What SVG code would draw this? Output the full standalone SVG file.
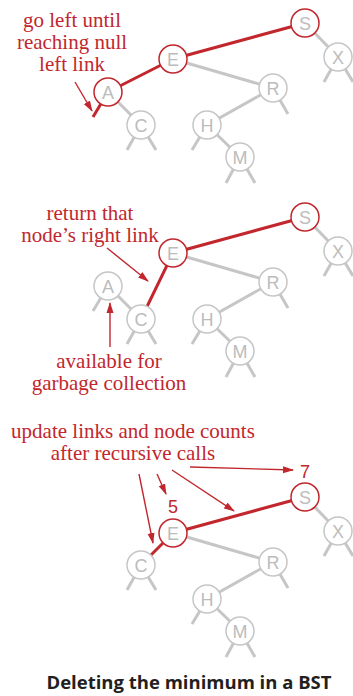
<svg xmlns="http://www.w3.org/2000/svg" width="353" height="696" viewBox="0 0 353 696">
<style>
.g{stroke:#c6c6c6;stroke-width:3;fill:none}
.r{stroke:#c1272d;stroke-width:3;fill:none}
.a{stroke:#c1272d;stroke-width:1.4;fill:none;marker-end:url(#ah)}
.n circle{fill:#fff;stroke:#c6c6c6;stroke-width:1.5}
.n.red circle{stroke:#c1272d}
.n text{font-family:"Liberation Sans",Arial,sans-serif;font-size:18px;fill:#bcbcbc;text-anchor:middle}
.lbl{font-family:"Liberation Serif","Times New Roman",serif;font-size:21px;fill:#c1272d;text-anchor:middle}
.num{font-family:"Liberation Sans",Arial,sans-serif;font-size:18px;fill:#c1272d;text-anchor:middle}
.title{font-family:"Open Sans","Liberation Sans",sans-serif;font-size:18.5px;font-weight:bold;fill:#231f20;text-anchor:middle}
</style>
<defs>
<marker id="ah" markerUnits="userSpaceOnUse" markerWidth="11" markerHeight="8" refX="10" refY="4" orient="auto">
<path d="M0,0.5 L11,4 L0,7.5 z" fill="#c1272d"/>
</marker>
</defs>
<g id="connectors">
<!-- panel 1 -->
<line class="r" x1="305" y1="23" x2="173" y2="59"/>
<line class="g" x1="305" y1="23" x2="338" y2="57"/>
<line class="g" x1="338" y1="57" x2="324" y2="82"/>
<line class="g" x1="338" y1="57" x2="353" y2="82"/>
<line class="r" x1="173" y1="59" x2="108" y2="92"/>
<line class="g" x1="173" y1="59" x2="273" y2="88"/>
<line class="r" x1="108" y1="92" x2="93" y2="117"/>
<line class="g" x1="108" y1="92" x2="141" y2="125"/>
<line class="g" x1="141" y1="125" x2="127" y2="150"/>
<line class="g" x1="141" y1="125" x2="156" y2="150"/>
<line class="g" x1="273" y1="88" x2="288" y2="114"/>
<line class="g" x1="273" y1="88" x2="207" y2="125"/>
<line class="g" x1="207" y1="125" x2="192" y2="150"/>
<line class="g" x1="207" y1="125" x2="240" y2="157"/>
<line class="g" x1="240" y1="157" x2="226" y2="183"/>
<line class="g" x1="240" y1="157" x2="255" y2="183"/>
<line class="a" x1="75" y1="82" x2="92" y2="111"/>
<!-- panel 2 -->
<line class="r" x1="305" y1="217" x2="173" y2="253"/>
<line class="g" x1="305" y1="217" x2="338" y2="251"/>
<line class="g" x1="338" y1="251" x2="324" y2="276"/>
<line class="g" x1="338" y1="251" x2="353" y2="276"/>
<line class="r" x1="173" y1="253" x2="141" y2="319"/>
<line class="g" x1="173" y1="253" x2="273" y2="282"/>
<line class="g" x1="108" y1="286" x2="93" y2="311"/>
<line class="g" x1="108" y1="286" x2="141" y2="319"/>
<line class="g" x1="141" y1="319" x2="127" y2="344"/>
<line class="g" x1="141" y1="319" x2="156" y2="344"/>
<line class="g" x1="273" y1="282" x2="288" y2="308"/>
<line class="g" x1="273" y1="282" x2="207" y2="319"/>
<line class="g" x1="207" y1="319" x2="192" y2="344"/>
<line class="g" x1="207" y1="319" x2="240" y2="351"/>
<line class="g" x1="240" y1="351" x2="226" y2="377"/>
<line class="g" x1="240" y1="351" x2="255" y2="377"/>
<line class="a" x1="107" y1="248" x2="148" y2="281"/>
<line class="a" x1="110" y1="347" x2="110" y2="303"/>
<!-- panel 3 -->
<line class="r" x1="305" y1="497" x2="173" y2="533"/>
<line class="g" x1="305" y1="497" x2="338" y2="531"/>
<line class="g" x1="338" y1="531" x2="324" y2="556"/>
<line class="g" x1="338" y1="531" x2="353" y2="556"/>
<line class="r" x1="173" y1="533" x2="141" y2="565"/>
<line class="g" x1="173" y1="533" x2="273" y2="562"/>
<line class="g" x1="141" y1="565" x2="127" y2="590"/>
<line class="g" x1="141" y1="565" x2="156" y2="590"/>
<line class="g" x1="273" y1="562" x2="288" y2="588"/>
<line class="g" x1="273" y1="562" x2="207" y2="599"/>
<line class="g" x1="207" y1="599" x2="192" y2="624"/>
<line class="g" x1="207" y1="599" x2="240" y2="631"/>
<line class="g" x1="240" y1="631" x2="226" y2="657"/>
<line class="g" x1="240" y1="631" x2="255" y2="657"/>
<line class="a" x1="139" y1="474" x2="153" y2="543"/>
<line class="a" x1="157" y1="474" x2="166" y2="494"/>
<line class="a" x1="172" y1="470" x2="234" y2="511"/>
<line class="a" x1="190" y1="467" x2="293" y2="470"/>
</g>
<!-- panel 1 nodes -->
<g id="p1-S" class="n red"><circle cx="305" cy="23" r="14"/><text x="305" y="29.5">S</text></g>
<g id="p1-X" class="n"><circle cx="338" cy="57" r="14"/><text x="338" y="63.5">X</text></g>
<g id="p1-E" class="n red"><circle cx="173" cy="59" r="14"/><text x="173" y="65.5">E</text></g>
<g id="p1-A" class="n red"><circle cx="108" cy="92" r="14"/><text x="108" y="98.5">A</text></g>
<g id="p1-C" class="n"><circle cx="141" cy="125" r="14"/><text x="141" y="131.5">C</text></g>
<g id="p1-R" class="n"><circle cx="273" cy="88" r="14"/><text x="273" y="94.5">R</text></g>
<g id="p1-H" class="n"><circle cx="207" cy="125" r="14"/><text x="207" y="131.5">H</text></g>
<g id="p1-M" class="n"><circle cx="240" cy="157" r="14"/><text x="240" y="163.5">M</text></g>
<!-- panel 2 nodes -->
<g id="p2-S" class="n red"><circle cx="305" cy="217" r="14"/><text x="305" y="223.5">S</text></g>
<g id="p2-X" class="n"><circle cx="338" cy="251" r="14"/><text x="338" y="257.5">X</text></g>
<g id="p2-E" class="n red"><circle cx="173" cy="253" r="14"/><text x="173" y="259.5">E</text></g>
<g id="p2-A" class="n"><circle cx="108" cy="286" r="14"/><text x="108" y="292.5">A</text></g>
<g id="p2-C" class="n"><circle cx="141" cy="319" r="14"/><text x="141" y="325.5">C</text></g>
<g id="p2-R" class="n"><circle cx="273" cy="282" r="14"/><text x="273" y="288.5">R</text></g>
<g id="p2-H" class="n"><circle cx="207" cy="319" r="14"/><text x="207" y="325.5">H</text></g>
<g id="p2-M" class="n"><circle cx="240" cy="351" r="14"/><text x="240" y="357.5">M</text></g>
<!-- panel 3 nodes -->
<g id="p3-S" class="n red"><circle cx="305" cy="497" r="14"/><text x="305" y="503.5">S</text></g>
<g id="p3-X" class="n"><circle cx="338" cy="531" r="14"/><text x="338" y="537.5">X</text></g>
<g id="p3-E" class="n red"><circle cx="173" cy="533" r="14"/><text x="173" y="539.5">E</text></g>
<g id="p3-C" class="n"><circle cx="141" cy="565" r="14"/><text x="141" y="571.5">C</text></g>
<g id="p3-R" class="n"><circle cx="273" cy="562" r="14"/><text x="273" y="568.5">R</text></g>
<g id="p3-H" class="n"><circle cx="207" cy="599" r="14"/><text x="207" y="605.5">H</text></g>
<g id="p3-M" class="n"><circle cx="240" cy="631" r="14"/><text x="240" y="637.5">M</text></g>
<!-- labels -->
<g id="labels">
<text class="lbl" x="72" y="27">go left until</text>
<text class="lbl" x="72" y="49">reaching null</text>
<text class="lbl" x="72" y="71">left link</text>
<text class="lbl" x="90" y="220">return that</text>
<text class="lbl" x="90" y="242">node’s right link</text>
<text class="lbl" x="109" y="368">available for</text>
<text class="lbl" x="109" y="390">garbage collection</text>
<text class="lbl" x="133" y="438">update links and node counts</text>
<text class="lbl" x="133" y="460">after recursive calls</text>
<text class="num" x="173" y="513">5</text>
<text class="num" x="305" y="478">7</text>
<text class="title" x="189" y="689">Deleting the minimum in a BST</text>
</g>
</svg>
